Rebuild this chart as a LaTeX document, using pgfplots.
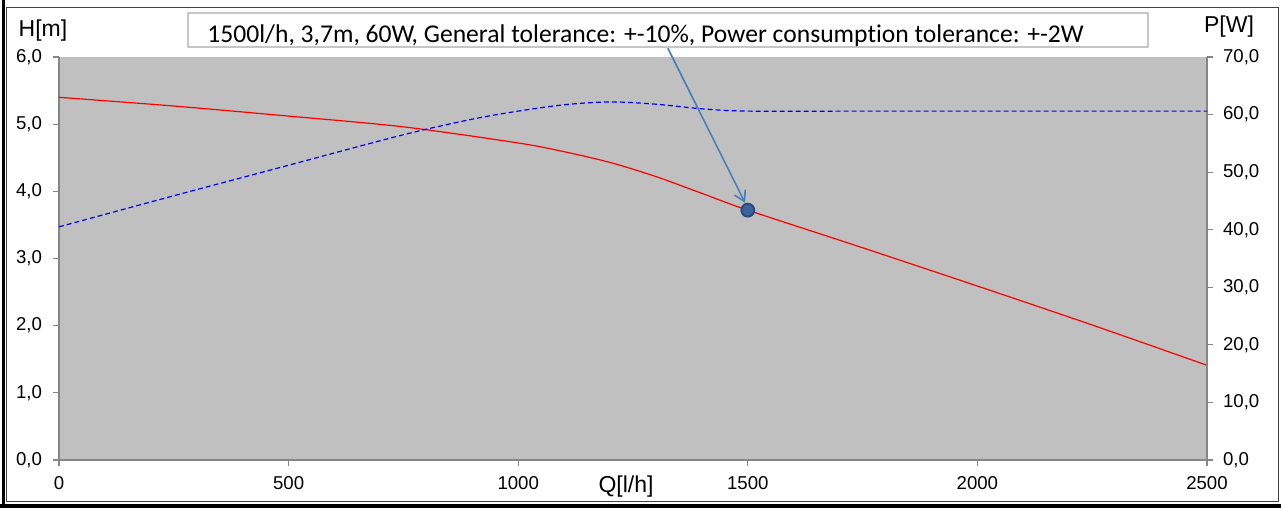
\documentclass[border=0pt]{standalone}
\usepackage{fontspec}
\setmainfont{Liberation Sans}
\newfontfamily\calibri[Ligatures=NoCommon]{Carlito}
\usepackage{pgfplots}
\pgfplotsset{compat=1.18}
\usetikzlibrary{arrows.meta}
\definecolor{plotbg}{RGB}{192,192,192}
\definecolor{axgray}{RGB}{134,134,134}
\definecolor{arrowblue}{RGB}{74,126,187}
\definecolor{markblue}{RGB}{40,75,125}
\definecolor{markin}{RGB}{60,100,160}
\begin{document}
\begin{tikzpicture}[x=1pt,y=1pt]
\useasboundingbox (0,0) rectangle (640.5,254);
% frame
\fill[white] (0,0) rectangle (640.5,254);
\draw[black!75, line width=0.5pt] (3.25,3) rectangle (639,250);
\fill[black] (0.75,0) rectangle (2.5,254);
\fill[black] (0,0) rectangle (640.5,2);
\pgfplotsset{every axis/.append style={scale only axis, width=574pt, height=201.5pt,
  at={(29.5pt,24pt)}, anchor=south west, xmin=0, xmax=2500,
  font=\fontsize{9.3}{10}\selectfont,
  tick style={axgray, line width=0.6pt}, tick align=outside, major tick length=3pt,
  axis line style={axgray, line width=0.8pt},
  /pgf/number format/assume math mode=true}}
\begin{axis}[axis x line*=bottom, axis y line*=left, ymin=0, ymax=6,
  ytick={0,1,...,6}, xtick={0,500,...,2500}, clip=false,
  axis background/.style={fill=plotbg},
  yticklabel style={xshift=-2pt, /pgf/number format/.cd, fixed, fixed zerofill, precision=1, use comma},
  xticklabel style={yshift=-1.5pt, /pgf/number format/.cd, 1000 sep={}}]
\addplot[red, line width=0.6pt, smooth, tension=0.5] coordinates {
(0,5.40) (250,5.27) (500,5.12) (750,4.96) (1000,4.72) (1100,4.59) (1200,4.43)
(1300,4.22) (1400,3.97) (1500,3.72) (1750,3.16) (2000,2.59) (2250,2.01) (2500,1.41)};
\draw[arrowblue, line width=0.8pt, -{Straight Barb[length=5pt, width=6pt]}] (axis cs:1326,6.13) -- (axis cs:1494,3.83);
\addplot[only marks, mark=*, mark size=3.2pt, mark options={fill=markin, draw=markblue, line width=1pt}] coordinates {(1500,3.72)};
\end{axis}
\begin{axis}[axis x line=none, axis y line*=right, ymin=0, ymax=70,
  ytick={0,10,...,70},
  yticklabel style={xshift=1.5pt, /pgf/number format/.cd, fixed, fixed zerofill, precision=1, use comma}]
\addplot[blue, line width=0.6pt, dash pattern=on 2.5pt off 1.5pt, smooth, tension=0.5] coordinates {
(0,40.5) (250,45.9) (500,51.2) (750,56.5) (900,59.2) (1000,60.6) (1100,61.7) (1200,62.2)
(1300,61.8) (1400,61.0) (1500,60.6) (1750,60.6) (2000,60.6) (2250,60.6) (2500,60.6)};
\end{axis}
% annotation box
\draw[gray!45, fill=white, line width=0.7pt] (94,230.5) rectangle (574,247.5);
\node[anchor=west, inner sep=0pt, font=\calibri\fontsize{12.8}{14}\selectfont] at (103.5,236) {1500l/h, 3,7m, 60W, General tolerance: +-10\%, Power consumption tolerance: +-2W};
% axis titles
\node[font=\fontsize{11.5}{12}\selectfont] at (21.5,238.5) {H[m]};
\node[font=\fontsize{11.5}{12}\selectfont] at (614.5,240.5) {P[W]};
\node[font=\fontsize{11.5}{12}\selectfont] at (313,10.5) {Q[l/h]};
\end{tikzpicture}
\end{document}
